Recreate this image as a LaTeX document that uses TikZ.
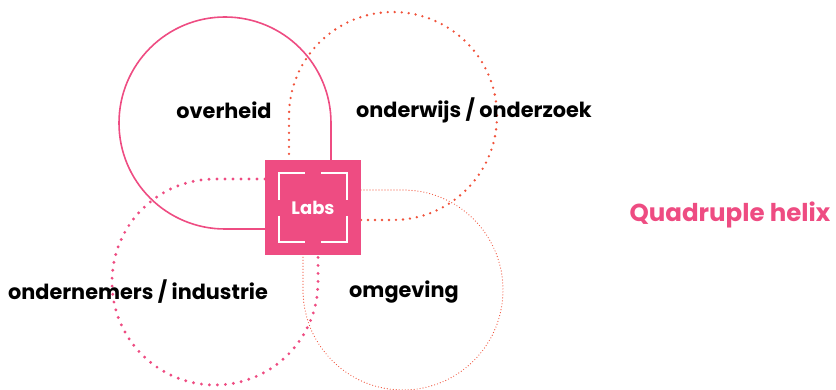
\documentclass[tikz,border=0pt]{standalone}
\usepackage{fontspec}
\setmainfont{Poppins}
\definecolor{helixpink}{RGB}{238,76,130}
\definecolor{helixred}{RGB}{240,82,58}
\tikzset{
  label/.style={font=\bfseries\fontsize{20.8}{24}\selectfont},
  solidline/.style={draw=helixpink,line width=1.6pt},
  bigdots/.style={draw=#1,line width=3.2pt,line cap=round,dash pattern=on 0pt off 8pt},
  smalldots/.style={draw=helixred,line width=1.2pt,line cap=round,dash pattern=on 0pt off 3pt},
  bracket/.style={draw=white,line width=2pt}
}
\begin{document}
\begin{tikzpicture}[x=1pt,y=1pt]
            \useasboundingbox (0,0) rectangle (836,389);
            % Helices
            \draw[solidline] (265,160) -- (225,160) arc[start angle=270,end angle=0,radius=106pt] -- (331,229);
            \draw[bigdots=helixred,line width=2.6pt,dash pattern=on 0pt off 7pt] (361,169) -- (393,169) arc[start angle=-90,end angle=180,radius=104pt] -- (289,229);
            \draw[bigdots=helixpink] (265,210) -- (215,210) arc[start angle=90,end angle=360,radius=103pt] -- (318,134);
            \draw[smalldots] (361,199) -- (403,199) arc[start angle=90,end angle=-180,radius=100pt] -- (303,134);
            % Nodes
            \node[fill=helixpink,minimum width=96pt,minimum height=95pt,inner sep=0pt] (labs) at (313,181.5) {};
            \foreach \sx/\sy in {1/1,1/-1,-1/1,-1/-1}
              \draw[bracket,shift={(labs.center)}] (\sx*34,\sy*8) -- (\sx*34,\sy*34) -- (\sx*8,\sy*34);
            \node[text=white,font=\bfseries\fontsize{18}{21}\selectfont] (labstext) at (labs.center) {Labs};
            \node[label] (overheid) at (224,279) {overheid};
            \node[label] (onderwijs) at (474,279) {onderwijs / onderzoek};
            \node[label] (ondernemers) at (138,97) {ondernemers / industrie};
            \node[label] (omgeving) at (404,97) {omgeving};
            \node[label,text=helixpink,font=\bfseries\fontsize{24.5}{28}\selectfont] (helix) at (730,174) {Quadruple helix};
\end{tikzpicture}
\end{document}
